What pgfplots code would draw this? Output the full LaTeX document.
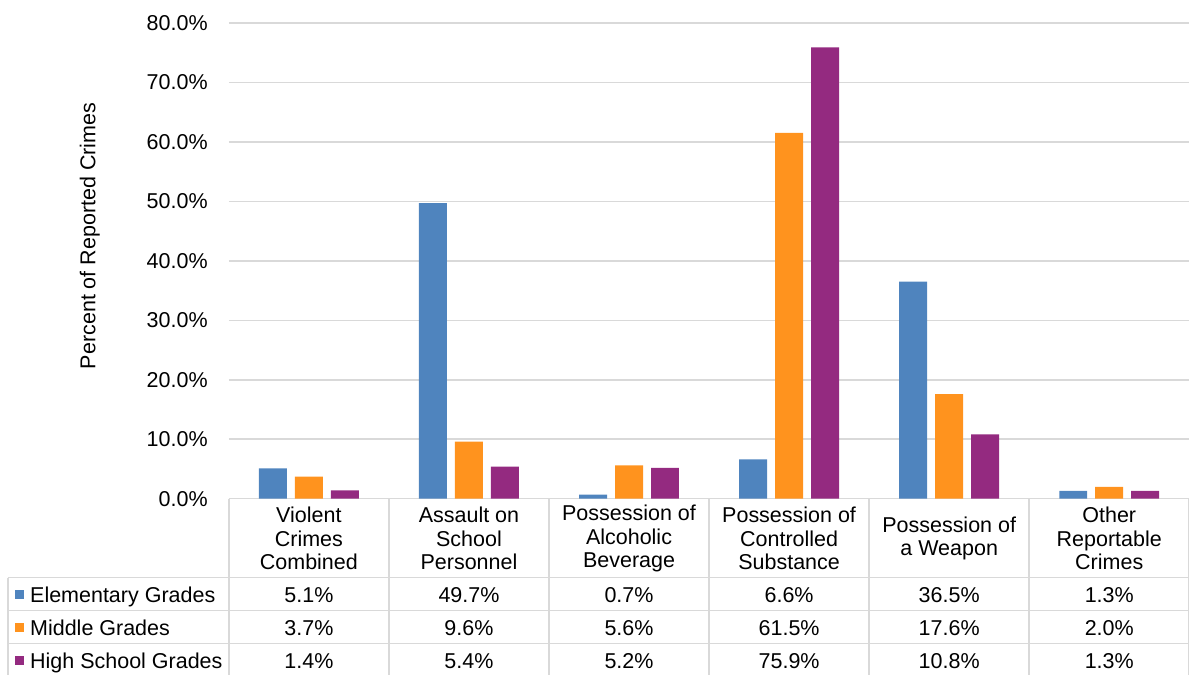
\documentclass[border=0pt]{standalone}
\usepackage{pgfplots}
\pgfplotsset{compat=1.18}
\usepackage{fontspec}
\setmainfont{Liberation Sans}

\definecolor{elem}{HTML}{4F84BE}
\definecolor{midd}{HTML}{FF931E}
\definecolor{high}{HTML}{942A80}
\definecolor{gridgray}{HTML}{D9D9D9}

\newcommand{\tfont}{\fontsize{21.5}{23.5}\selectfont}

\begin{document}
\begin{tikzpicture}[x=1pt,y=1pt]
\path (0,0) rectangle (1190,675);

\begin{axis}[
    at={(229pt,176pt)}, anchor=south west,
    scale only axis,
    width=961pt, height=476pt,
    xmin=-0.5, xmax=5.5,
    ymin=0, ymax=80,
    ybar=8pt, bar width=28pt,
    xtick=\empty,
    ytick={0,10,...,80},
    ymajorgrids,
    grid style={gridgray, line width=1.5pt},
    axis line style={draw=none},
    major tick length=0pt,
    /pgf/number format/assume math mode=true,
    yticklabel={\pgfmathprintnumber[fixed,fixed zerofill,precision=1]{\tick}\%},
    yticklabel style={font=\tfont, anchor=east, inner sep=0pt, xshift=-21pt},
]
\addplot[fill=elem, draw=none] coordinates {(0,5.1) (1,49.7) (2,0.7) (3,6.6) (4,36.5) (5,1.3)};
\addplot[fill=midd, draw=none] coordinates {(0,3.7) (1,9.6) (2,5.6) (3,61.5) (4,17.6) (5,2.0)};
\addplot[fill=high, draw=none] coordinates {(0,1.4) (1,5.4) (2,5.2) (3,75.9) (4,10.8) (5,1.3)};
\end{axis}

\node[rotate=90, font=\fontsize{21.5}{24}\selectfont] at (90,439) {Percent of Reported Crimes};

% data table under the plot
\begin{scope}[gridgray, line width=1.5pt]
  \draw (8,97) -- (1190,97);
  \draw (8,64) -- (1190,64);
  \draw (8,31) -- (1190,31);
  \draw (8,97) -- (8,0);
  \foreach \x in {229,389.2,549.3,709.5,869.7,1029.8,1189.2}
    \draw (\x,176) -- (\x,0);
\end{scope}

\foreach \i/\lab in {0/{Violent\\Crimes\\Combined}, 1/{Assault on\\School\\Personnel},
    2/{Possession of\\Alcoholic\\Beverage}, 3/{Possession of\\Controlled\\Substance},
    4/{Possession of\\a Weapon}, 5/{Other\\Reportable\\Crimes}}
  \node[font=\tfont, align=center] at ({229+160.17*(\i+0.5)},136) {\lab};

\foreach \y/\c/\name in {80/elem/Elementary Grades, 47/midd/Middle Grades, 14/high/High School Grades} {
  \fill[\c] (15,\y-4.5) rectangle (24,\y+4.5);
  \node[font=\tfont, anchor=base west, inner sep=0pt] at (30,\y-7.7) {\name};
}

\foreach \i/\a/\b/\c in {0/5.1/3.7/1.4, 1/49.7/9.6/5.4, 2/0.7/5.6/5.2,
    3/6.6/61.5/75.9, 4/36.5/17.6/10.8, 5/1.3/2.0/1.3} {
  \node[font=\tfont, anchor=base, inner sep=0pt] at ({229+160.17*(\i+0.5)},72.3) {\a\%};
  \node[font=\tfont, anchor=base, inner sep=0pt] at ({229+160.17*(\i+0.5)},39.3) {\b\%};
  \node[font=\tfont, anchor=base, inner sep=0pt] at ({229+160.17*(\i+0.5)},6.3) {\c\%};
}
\end{tikzpicture}
\end{document}
